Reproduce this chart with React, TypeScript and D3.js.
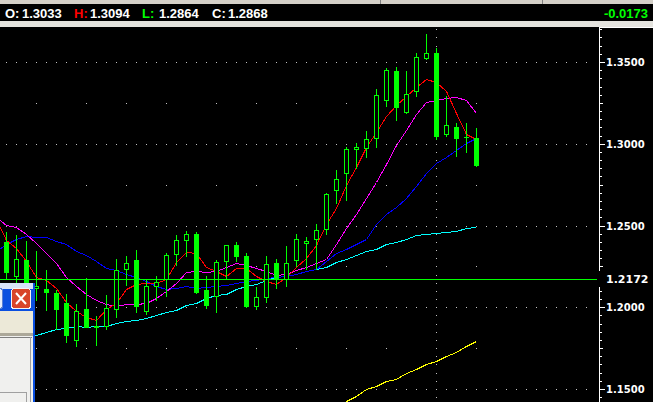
import * as d3 from "d3";
import React from "react";

// daily candles, oldest first
const opens = [1.2398, 1.219, 1.2286, 1.2115, 1.2109, 1.2088, 1.2023, 1.1799, 1.1992, 1.1884, 1.1884, 1.1991, 1.2235, 1.2292, 1.1976, 1.2133, 1.217, 1.2327, 1.241, 1.2451, 1.2104, 1.2068, 1.2282, 1.2378, 1.2312, 1.2006, 1.2061, 1.2272, 1.2174, 1.2286, 1.2394, 1.2419, 1.248, 1.2716, 1.2822, 1.2969, 1.2975, 1.3036, 1.3266, 1.3448, 1.3193, 1.3321, 1.3523, 1.3552, 1.3057, 1.3104, 1.3042, 1.3033];
const highs = [1.2459, 1.2439, 1.2408, 1.2343, 1.2225, 1.2104, 1.2082, 1.2017, 1.218, 1.1945, 1.2072, 1.2296, 1.2312, 1.2353, 1.217, 1.2194, 1.2333, 1.2439, 1.2465, 1.2463, 1.2194, 1.2292, 1.238, 1.2398, 1.2329, 1.2121, 1.2312, 1.2296, 1.2373, 1.2445, 1.2431, 1.2512, 1.27, 1.2842, 1.2979, 1.3006, 1.3081, 1.3332, 1.3464, 1.3471, 1.3448, 1.3552, 1.3674, 1.3583, 1.3295, 1.3128, 1.3124, 1.3094];
const lows = [1.217, 1.215, 1.2017, 1.2047, 1.1982, 1.1868, 1.1786, 1.1762, 1.188, 1.1772, 1.1868, 1.1942, 1.2139, 1.197, 1.1956, 1.2047, 1.2068, 1.2261, 1.2312, 1.2088, 1.1997, 1.197, 1.2174, 1.2282, 1.2004, 1.1991, 1.2031, 1.2119, 1.2129, 1.2251, 1.2231, 1.2231, 1.2451, 1.2639, 1.2659, 1.2853, 1.2918, 1.2981, 1.323, 1.3144, 1.3189, 1.3295, 1.352, 1.3026, 1.305, 1.2924, 1.2948, 1.2864];
const closes = [1.2214, 1.2296, 1.2078, 1.2133, 1.2092, 1.1991, 1.1833, 1.198, 1.188, 1.1886, 1.1997, 1.2225, 1.2272, 1.2006, 1.2133, 1.2156, 1.2317, 1.2414, 1.2451, 1.2092, 1.2011, 1.2278, 1.2378, 1.2312, 1.2006, 1.2064, 1.2266, 1.2174, 1.2272, 1.2419, 1.2406, 1.2474, 1.269, 1.2786, 1.2965, 1.2979, 1.3026, 1.3299, 1.3454, 1.3224, 1.3307, 1.3532, 1.3556, 1.305, 1.3112, 1.3034, 1.304, 1.2868];

// moving averages, first value sits one bar left of the first candle
const maRed = [1.2537, 1.2414, 1.2365, 1.228, 1.2188, 1.2164, 1.2115, 1.2035, 1.198, 1.1943, 1.1925, 1.1992, 1.2029, 1.2109, 1.2145, 1.2151, 1.2151, 1.217, 1.2274, 1.2335, 1.2329, 1.2249, 1.2219, 1.2194, 1.2243, 1.2243, 1.2194, 1.2158, 1.2145, 1.2182, 1.2249, 1.2304, 1.2378, 1.2512, 1.261, 1.2745, 1.2855, 1.2983, 1.3069, 1.3167, 1.3234, 1.3295, 1.335, 1.3399, 1.3375, 1.332, 1.3191, 1.3057, 1.3026];
const maMagenta = [1.2555, 1.2506, 1.2488, 1.2445, 1.2396, 1.2329, 1.2268, 1.2188, 1.2127, 1.2084, 1.2047, 1.2017, 1.2005, 1.2017, 1.2017, 1.2029, 1.2054, 1.2102, 1.2151, 1.2213, 1.2219, 1.2213, 1.2219, 1.2249, 1.2268, 1.2261, 1.2243, 1.2219, 1.22, 1.2206, 1.2225, 1.2249, 1.2268, 1.2298, 1.2384, 1.2482, 1.2573, 1.2671, 1.2769, 1.2879, 1.2995, 1.3087, 1.3179, 1.3258, 1.3265, 1.3277, 1.3283, 1.3265, 1.3191];
const maBlue = [1.2341, 1.2384, 1.242, 1.2433, 1.2427, 1.2427, 1.2408, 1.2384, 1.2347, 1.2317, 1.228, 1.2243, 1.2225, 1.2206, 1.2182, 1.2158, 1.2127, 1.2109, 1.2115, 1.2127, 1.2115, 1.2121, 1.2127, 1.2139, 1.2151, 1.2158, 1.2164, 1.2176, 1.2182, 1.2194, 1.2206, 1.2219, 1.2231, 1.228, 1.2329, 1.2359, 1.2384, 1.242, 1.2512, 1.2573, 1.2616, 1.2671, 1.2739, 1.2824, 1.2885, 1.2922, 1.2959, 1.3002, 1.3038];
const maCyan = [1.1803, 1.1809, 1.1815, 1.1821, 1.1833, 1.1846, 1.1864, 1.1876, 1.1888, 1.1882, 1.1888, 1.1888, 1.1901, 1.1913, 1.1919, 1.1937, 1.195, 1.1968, 1.1986, 1.2011, 1.2029, 1.2054, 1.2072, 1.2084, 1.2109, 1.2127, 1.2145, 1.2164, 1.2182, 1.2194, 1.2206, 1.2219, 1.2231, 1.2249, 1.2274, 1.2298, 1.2317, 1.2341, 1.2359, 1.2384, 1.2402, 1.242, 1.2439, 1.2451, 1.2457, 1.2463, 1.2469, 1.2482, 1.2488];
// long average only enters the window near the end, starts at bar 33
const yellowStart = 33;
const maYellow = [1.1387, 1.1424, 1.146, 1.1497, 1.1521, 1.1546, 1.1564, 1.1595, 1.1625, 1.165, 1.1674, 1.1699, 1.1729, 1.176, 1.1791];

const priceTicks = [1.15, 1.2, 1.25, 1.3, 1.35];
const weekBars = [3, 8, 12, 16, 21, 25, 29, 34, 38, 43, 47];
const separatorBar = 43;
const linePrice = 1.2172;

const headLabels = ["O:", "H:", "L:", "C:"];
const headValues = ["1.3033", "1.3094", "1.2864", "1.2868"];
const headChange = "-0.0173";

const W = 653;
const H = 402;
const GREEN = "#00FF00";
const GRID = "#C0C0C0";

export default function App() {
  const x = d3.scaleLinear().domain([0, 47]).range([6, 476]);
  const y = d3.scaleLinear().domain([1.15, 1.35]).range([389, 62]);
  const ry = (v: number) => Math.round(y(v));

  const maLine = (start: number) =>
    d3
      .line<number>()
      .x((_, i) => Math.round(x(i + start)) + 0.5)
      .y((d) => ry(d) + 0.5);

  const minor = d3.ticks(1.14, 1.37, 46);
  const midRows = [1.175, 1.225, 1.275, 1.325];

  const headX = [5, 74, 142, 212];
  const valX = [22, 90, 159, 228];
  const headColors = ["#FFFFFF", "#FF0000", GREEN, "#FFFFFF"];

  const axisX = 599;

  return (
    <svg
      width={W}
      height={H}
      style={{ position: "fixed", left: 0, top: 0, display: "block" }}
      shapeRendering="crispEdges"
    >
      <rect x={0} y={0} width={W} height={H} fill="#000" />

      {/* top strip */}
      <rect x={0} y={0} width={W} height={4} fill="#D4D0C8" />
      <line x1={380.5} x2={380.5} y1={0} y2={4} stroke="#808080" />
      <line x1={542.5} x2={542.5} y1={0} y2={4} stroke="#808080" />
      <rect x={0} y={21} width={W} height={6} fill="#E4E3DE" />
      <g fontFamily="Liberation Sans, Arial, sans-serif" fontWeight="bold" fontSize={13}>
        {headLabels.map((t, i) => (
          <text key={t} x={headX[i]} y={18} fill={headColors[i]}>
            {t}
          </text>
        ))}
        {headValues.map((t, i) => (
          <text key={i} x={valX[i]} y={18} fill="#FFFFFF">
            {t}
          </text>
        ))}
        <text x={648} y={18} textAnchor="end" fill={GREEN}>
          {headChange}
        </text>
      </g>

      {/* grid */}
      {priceTicks.map((p) => (
        <line
          key={p}
          x1={6}
          x2={592}
          y1={ry(p) + 0.5}
          y2={ry(p) + 0.5}
          stroke={GRID}
          strokeDasharray="1 9"
        />
      ))}
      {weekBars.map((b) =>
        midRows.map((p) => (
          <rect key={`${b}-${p}`} x={Math.round(x(b))} y={ry(p)} width={1} height={1} fill={GRID} />
        ))
      )}
      {minor
        .filter((p) => ry(p) > 28)
        .map((p) => (
          <rect key={p} x={Math.round(x(separatorBar))} y={ry(p)} width={1} height={1} fill={GRID} />
        ))}

      {/* moving averages */}
      <path d={maLine(-1)(maCyan) ?? ""} fill="none" stroke="#00FFFF" />
      <path d={maLine(yellowStart)(maYellow) ?? ""} fill="none" stroke="#FFFF00" />
      <path d={maLine(-1)(maBlue) ?? ""} fill="none" stroke="#0000FF" />
      <path d={maLine(-1)(maMagenta) ?? ""} fill="none" stroke="#FF00FF" />
      <path d={maLine(-1)(maRed) ?? ""} fill="none" stroke="#FF0000" />

      {/* candles */}
      {opens.map((o, i) => {
        const c = closes[i];
        const cx = Math.round(x(i));
        const yo = ry(o);
        const yc = ry(c);
        const top = Math.min(yo, yc);
        const bot = Math.max(yo, yc);
        const bull = c >= o;
        return (
          <g key={i}>
            <line x1={cx + 0.5} x2={cx + 0.5} y1={ry(highs[i])} y2={ry(lows[i]) + 1} stroke={GREEN} />
            {bull ? (
              <rect
                x={cx - 1.5}
                y={top + 0.5}
                width={4}
                height={Math.max(bot - top, 1)}
                fill="#000"
                stroke={GREEN}
              />
            ) : (
              <rect x={cx - 2} y={top} width={5} height={bot - top + 1} fill={GREEN} />
            )}
          </g>
        );
      })}

      {/* horizontal line */}
      <line x1={0} x2={597} y1={ry(linePrice) + 0.5} y2={ry(linePrice) + 0.5} stroke={GREEN} />

      {/* price axis */}
      <line x1={axisX + 0.5} x2={axisX + 0.5} y1={27} y2={H} stroke="#FFFFFF" />
      <line x1={axisX} x2={W} y1={27.5} y2={27.5} stroke="#FFFFFF" />
      {minor.map((p) => {
        const k = Math.round(p * 1000);
        const len = k % 50 === 0 ? 5 : k % 25 === 0 ? 3 : 2;
        return (
          <line
            key={p}
            x1={axisX + 1}
            x2={axisX + 1 + len}
            y1={ry(p) + 0.5}
            y2={ry(p) + 0.5}
            stroke="#FFFFFF"
          />
        );
      })}
      <g fontFamily="DejaVu Sans, sans-serif" fontWeight="bold" fontSize={10} fill="#FFFFFF">
        {priceTicks.map((p) => (
          <text key={p} x={606} y={ry(p) + 4}>
            {p.toFixed(4)}
          </text>
        ))}
        <rect x={598} y={271} width={W - 598} height={16} fill="#000" />
        <text x={606} y={ry(linePrice) + 4} fontSize={11}>
          {linePrice.toFixed(4)}
        </text>
      </g>

      {/* dialog window poking in from the bottom left */}
      <g>
        <rect x={0} y={283} width={35} height={H - 283} fill="#0A4FE0" />
        <rect x={0} y={283} width={33} height={6} fill="#D6E2F8" />
        <rect x={-12.5} y={288.5} width={15} height={20} rx={3} fill="#E8EEFA" stroke="#5B7FD4" />
        <rect x={11.5} y={288.5} width={19} height={20} rx={3} fill="#D8452A" stroke="#F4F4F4" />
        <line x1={16} y1={293} x2={26} y2={304} stroke="#FFFFFF" strokeWidth={2} shapeRendering="auto" />
        <line x1={26} y1={293} x2={16} y2={304} stroke="#FFFFFF" strokeWidth={2} shapeRendering="auto" />
        <rect x={0} y={311} width={33} height={22} fill="#ECE9D8" />
        <rect x={0} y={333} width={33} height={3} fill="#ACA899" />
        <rect x={0} y={336} width={33} height={H - 336} fill="#F0F0EE" />
        <line x1={0} x2={32} y1={337.5} y2={337.5} stroke="#808080" />
        <line x1={30.5} x2={30.5} y1={337} y2={H} stroke="#A0A0A0" />
        <line x1={0} x2={26} y1={392.5} y2={392.5} stroke="#A0A0A0" />
        <line x1={26.5} x2={26.5} y1={392} y2={H} stroke="#A0A0A0" />
      </g>
    </svg>
  );
}
